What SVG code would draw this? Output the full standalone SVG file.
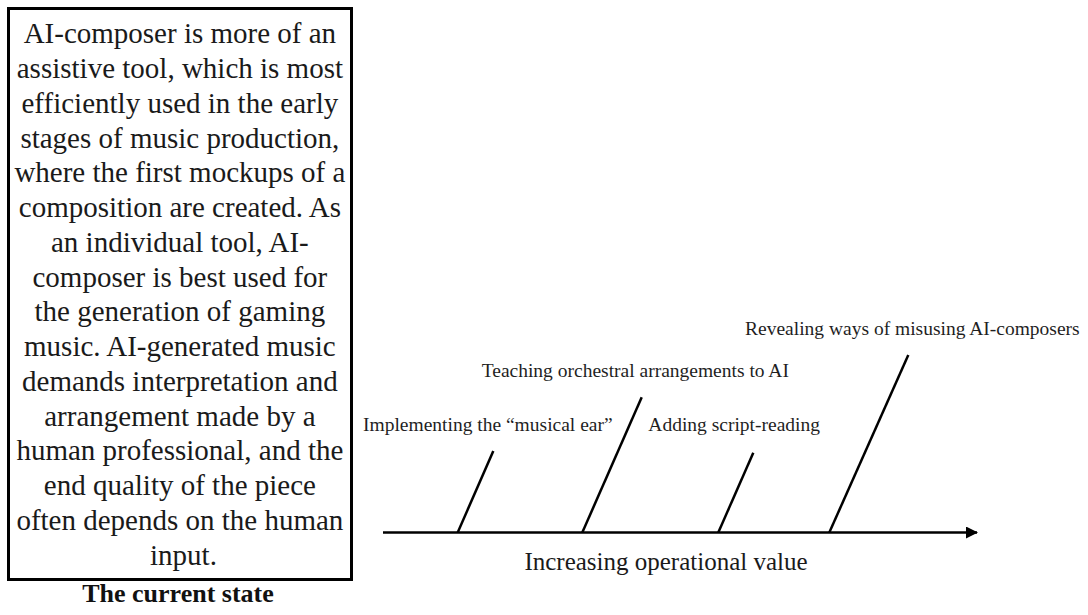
<svg xmlns="http://www.w3.org/2000/svg" width="1088" height="615" viewBox="0 0 1088 615">
  <style>
    .body { font-family: "Liberation Serif", "Times New Roman", serif; font-size: 29px; fill: #1a1a1a; text-anchor: middle; }
    .title { font-family: "Liberation Serif", "Times New Roman", serif; font-size: 26px; font-weight: bold; fill: #111; text-anchor: middle; }
    .label { font-family: "Liberation Serif", "Times New Roman", serif; font-size: 19.5px; fill: #1f1f1f; }
    .axis-label { font-family: "Liberation Serif", "Times New Roman", serif; font-size: 25px; fill: #1a1a1a; text-anchor: middle; }
    .line { stroke: #000; stroke-width: 2.5; fill: none; }
  </style>
  <defs>
    <marker id="arrow" viewBox="0 0 12 12" refX="11" refY="6" markerWidth="12" markerHeight="12" markerUnits="userSpaceOnUse" orient="auto">
      <path d="M0,0 L12,6 L0,12 Z" fill="#000"/>
    </marker>
  </defs>
  <rect width="1088" height="615" fill="#fff"/>

  <!-- Summary box -->
  <g id="current-state">
    <rect x="8.5" y="8.5" width="343" height="571" fill="#fff" stroke="#000" stroke-width="3"/>
    <text class="body">
      <tspan x="183.5" y="43.3">AI-composer is more of an</tspan>
      <tspan x="183.5" y="78.05">assistive tool, which is most</tspan>
      <tspan x="183.5" y="112.8">efficiently used in the early</tspan>
      <tspan x="183.5" y="147.55">stages of music production,</tspan>
      <tspan x="183.5" y="182.3">where the first mockups of a</tspan>
      <tspan x="183.5" y="217.05">composition are created. As</tspan>
      <tspan x="183.5" y="251.8">an individual tool, AI-</tspan>
      <tspan x="183.5" y="286.55">composer is best used for</tspan>
      <tspan x="183.5" y="321.3">the generation of gaming</tspan>
      <tspan x="183.5" y="356.05">music. AI-generated music</tspan>
      <tspan x="183.5" y="390.8">demands interpretation and</tspan>
      <tspan x="183.5" y="425.55">arrangement made by a</tspan>
      <tspan x="183.5" y="460.3">human professional, and the</tspan>
      <tspan x="183.5" y="495.05">end quality of the piece</tspan>
      <tspan x="183.5" y="529.8">often depends on the human</tspan>
      <tspan x="183.5" y="564.55">input.</tspan>
    </text>
    <text class="title" x="178" y="601.5">The current state</text>
  </g>

  <!-- Axis and branches -->
  <g id="connectors">
    <line class="line" x1="383" y1="532.5" x2="977" y2="532.5" marker-end="url(#arrow)"/>
    <line class="line" x1="457.7" y1="532.5" x2="493.3" y2="451"/>
    <line class="line" x1="582.3" y1="532.5" x2="641.7" y2="397.3"/>
    <line class="line" x1="718.3" y1="532.5" x2="753.3" y2="452.7"/>
    <line class="line" x1="829.3" y1="532.5" x2="908.3" y2="355"/>
  </g>

  <g id="axis-label">
    <text class="axis-label" x="666" y="570">Increasing operational value</text>
  </g>
  <g id="musical-ear">
    <text class="label" x="363" y="431">Implementing the “musical ear”</text>
  </g>
  <g id="orchestral-arrangements">
    <text class="label" x="481.7" y="377">Teaching orchestral arrangements to AI</text>
  </g>
  <g id="script-reading">
    <text class="label" x="648.3" y="431">Adding script-reading</text>
  </g>
  <g id="misuse">
    <text class="label" x="745" y="334.5">Revealing ways of misusing AI-composers</text>
  </g>
</svg>
